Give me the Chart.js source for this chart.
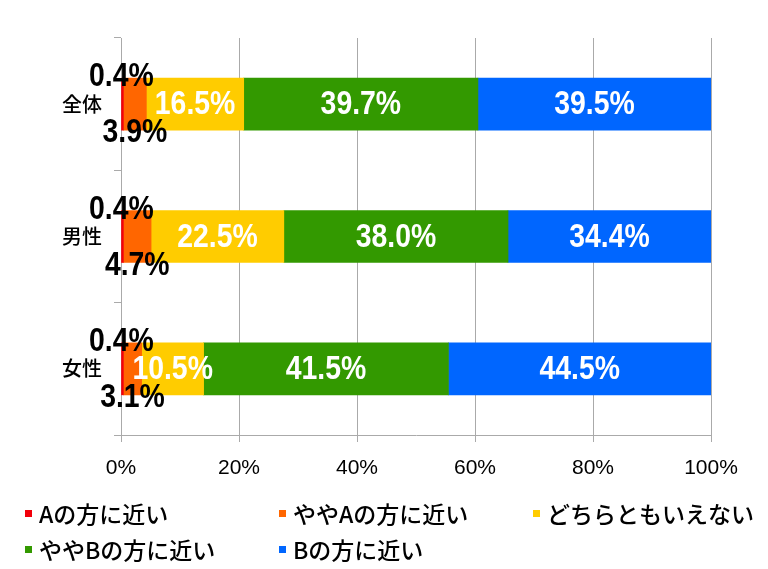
<!DOCTYPE html>
<html>
<head>
<meta charset="utf-8">
<script src="https://cdn.jsdelivr.net/npm/chart.js@4/dist/chart.umd.min.js"></script>
<style>
  html, body { margin: 0; padding: 0; background: #fff; }
  #wrap { width: 768px; height: 569px; position: relative; }
</style>
</head>
<body>
<div id="wrap"><canvas id="chart"></canvas></div>
<script>
// ---------- data ----------
const categories = ['全体', '男性', '女性'];
const seriesNames = ['Aの方に近い', 'ややAの方に近い', 'どちらともいえない', 'ややBの方に近い', 'Bの方に近い'];
const seriesColors = ['#F2000A', '#FF6600', '#FFCC00', '#339900', '#0066FF'];
const aNear      = [0.4, 0.4, 0.4];
const aSomewhat  = [3.9, 4.7, 3.1];
const neither    = [16.5, 22.5, 10.5];
const bSomewhat  = [39.7, 38.0, 41.5];
const bNear      = [39.5, 34.4, 44.5];
const xTicks     = [0, 20, 40, 60, 80, 100];

const seriesValues = [aNear, aSomewhat, neither, bSomewhat, bNear];

const LABEL_FONT = "bold 33px 'Liberation Sans', Arial, sans-serif";
const CJK = "'Noto Sans CJK JP', 'Liberation Sans', sans-serif";

// condensed look: squeeze the bold labels horizontally
const drawNarrow = (ctx, txt, x, y, squeeze = 0.86) => {
  ctx.save();
  ctx.translate(x, y);
  ctx.scale(squeeze, 1);
  ctx.fillText(txt, 0, 0);
  ctx.restore();
};

// ---------- plugins ----------
const barLabels = {
  id: 'barLabels',
  afterDatasetsDraw(chart) {
    const { ctx } = chart;
    ctx.save();
    ctx.font = LABEL_FONT;
    ctx.textAlign = 'center';
    ctx.textBaseline = 'middle';
    chart.data.datasets.forEach((ds, i) => {
      const meta = chart.getDatasetMeta(i);
      meta.data.forEach((bar, j) => {
        const txt = ds.data[j].toFixed(1) + '%';
        const cx = (bar.x + bar.base) / 2;
        const h = bar.height;
        if (i === 0) {
          ctx.fillStyle = '#000';
          drawNarrow(ctx, txt, cx - 1, bar.y - h / 2 - 1);
        } else if (i === 1) {
          ctx.fillStyle = '#000';
          drawNarrow(ctx, txt, cx, bar.y + h / 2 + 3);
        } else {
          ctx.fillStyle = '#fff';
          drawNarrow(ctx, txt, cx, bar.y + 1);
        }
      });
    });
    ctx.restore();
  }
};

const gridLegend = {
  id: 'gridLegend',
  afterDraw(chart) {
    const { ctx } = chart;
    ctx.save();
    ctx.font = '500 23px ' + CJK;
    ctx.textBaseline = 'middle';
    ctx.textAlign = 'left';
    seriesNames.forEach((name, i) => {
      const col = i % 3, row = Math.floor(i / 3);
      const x = 25 + col * 254;
      const y = 513 + row * 36;
      ctx.fillStyle = seriesColors[i];
      ctx.fillRect(x, y - 3, 7, 7);
      ctx.fillStyle = '#000';
      ctx.fillText(name, x + 14, y + 1);
    });
    ctx.restore();
  }
};

// ---------- chart ----------
new Chart(document.getElementById('chart'), {
  type: 'bar',
  data: {
    labels: categories,
    datasets: seriesNames.map((name, i) => ({
      label: name,
      data: seriesValues[i],
      backgroundColor: seriesColors[i],
      borderWidth: 0,
      barThickness: 52
    }))
  },
  options: {
    indexAxis: 'y',
    responsive: true,
    maintainAspectRatio: false,
    animation: false,
    layout: { padding: { top: 38, right: 57, left: 0, bottom: 0 } },
    plugins: {
      legend: { display: false },
      tooltip: { enabled: false }
    },
    scales: {
      x: {
        stacked: true,
        min: 0,
        max: 100,
        afterFit(scale) { scale.height = 134; },
        afterBuildTicks(scale) { scale.ticks = xTicks.map(v => ({ value: v })); },
        grid: { color: '#aaaaaa', lineWidth: 1, tickLength: 7 },
        border: { color: '#aaaaaa' },
        ticks: {
          padding: 14,
          color: '#000',
          font: { family: "'Liberation Sans', Arial, sans-serif", size: 21 },
          callback: v => v + '%'
        }
      },
      y: {
        stacked: true,
        afterFit(scale) { scale.width = 121; },
        grid: { drawOnChartArea: false, color: '#aaaaaa', tickLength: 7 },
        border: { color: '#aaaaaa' },
        ticks: {
          padding: 12,
          color: '#000',
          font: { family: CJK, size: 20, weight: 500 }
        }
      }
    }
  },
  plugins: [barLabels, gridLegend]
});
</script>
</body>
</html>
